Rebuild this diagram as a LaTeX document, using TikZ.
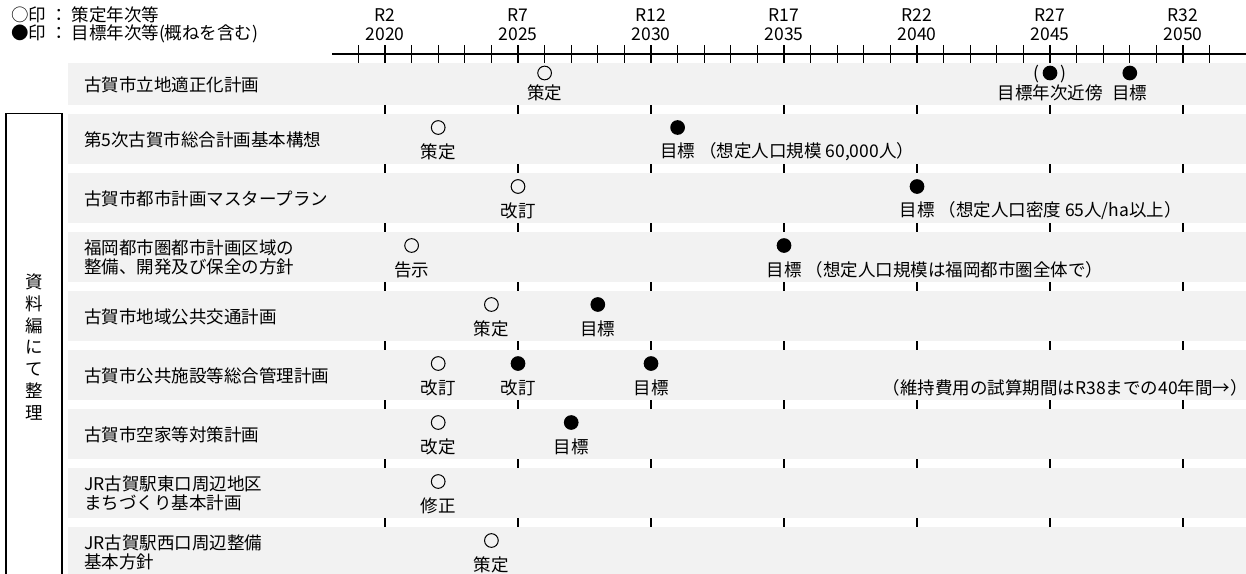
\documentclass[tikz,border=0pt]{standalone}
\usepackage{fontspec}
\setmainfont{Noto Sans CJK JP}
\usepackage{tikz}
\definecolor{BandColor}{RGB}{242,242,242}
\newcommand{\yx}[1]{385+(#1-2020)*26.6}
\tikzstyle{opendot} = [circle, draw=black, line width=1pt, minimum size=13.7pt, inner sep=0pt]
\tikzstyle{goaldot} = [circle, fill=black, minimum size=14.7pt, inner sep=0pt]
\tikzstyle{jptext} = [font=\fontsize{17.5}{19.5}\selectfont, inner sep=0pt]
\tikzstyle{plantext} = [jptext, anchor=west, align=left]
\tikzstyle{gridline} = [line width=1.2pt, black]

\begin{document}
\begin{tikzpicture}[x=1pt, y=-1pt]
\useasboundingbox (0,0) rectangle (1246,573);

% legend
\node[jptext, anchor=west] (openkey) at (11,15) {○印 ： 策定年次等};
\node[jptext, anchor=west] (goalkey) at (11,34) {●印 ： 目標年次等(概ねを含む)};

% year axis
\draw[line width=1.3pt] (332,54) -- (1246,54);
\foreach \yr in {2019,...,2051}
    \draw[line width=1pt] ({\yx{\yr}},45) -- ({\yx{\yr}},63);
\foreach \yr/\r in {2020/2,2025/7,2030/12,2035/17,2040/22,2045/27,2050/32} {
    \draw[line width=2.6pt] ({\yx{\yr}},45) -- ({\yx{\yr}},63);
    \draw[gridline] ({\yx{\yr}},63) -- ({\yx{\yr}},573);
    \node[jptext] (era\r) at ({\yx{\yr}},15) {R\r};
    \node[jptext] (year\yr) at ({\yx{\yr}},34) {\yr};
}

% bands
\fill[BandColor] (68,63) rectangle (1246,105);
\foreach \row in {2,...,9}
    \fill[BandColor] (68,{113.5+59*(\row-2)}) rectangle (1246,{163.5+59*(\row-2)});

% side box
\draw[line width=1.2pt] (6,574) -- (6,113.5) -- (62,113.5) -- (62,574);
\node[jptext, align=center, font=\fontsize{17.5}{21.7}\selectfont] (sorted) at (34,347) {資\\料\\編\\に\\て\\整\\理};

% plan names
\node[plantext] (plan1) at (84,85) {古賀市立地適正化計画};
\foreach \row/\name in {2/第5次古賀市総合計画基本構想, 3/古賀市都市計画マスタープラン,
    4/{福岡都市圏都市計画区域の\\整備、開発及び保全の方針}, 5/古賀市地域公共交通計画,
    6/古賀市公共施設等総合管理計画, 7/古賀市空家等対策計画,
    8/{JR古賀駅東口周辺地区\\まちづくり基本計画}, 9/{JR古賀駅西口周辺整備\\基本方針}}
    \node[plantext] (plan\row) at (84,{139.5+59*(\row-2)}) {\name};

% row 1 marks
\node[opendot] (m1-2026) at ({\yx{2026}},73) {};
\node[jptext] (l1-2026) at ({\yx{2026}},93) {策定};
\node[goaldot] (m1-2045) at ({\yx{2045}},73) {};
\node[jptext, anchor=base east] (lp1) at ({\yx{2045}-10},79) {(};
\node[jptext, anchor=base west] (rp1) at ({\yx{2045}+10},79) {)};
\node[jptext] (l1-2045) at ({\yx{2045}},93) {目標年次近傍};
\node[goaldot] (m1-2048) at ({\yx{2048}},73) {};
\node[jptext] (l1-2048) at ({\yx{2048}},93) {目標};

% rows 2-9 marks
\foreach \row/\yr/\kind/\txt in {2/2022/opendot/策定, 3/2025/opendot/改訂, 4/2021/opendot/告示,
    5/2024/opendot/策定, 5/2028/goaldot/目標, 6/2022/opendot/改訂, 6/2025/goaldot/改訂,
    6/2030/goaldot/目標, 7/2022/opendot/改定, 7/2027/goaldot/目標, 8/2022/opendot/修正,
    9/2024/opendot/策定} {
    \node[\kind] (m\row-\yr) at ({\yx{\yr}},{127.5+59*(\row-2)}) {};
    \node[jptext] (l\row-\yr) at ({\yx{\yr}},{151.5+59*(\row-2)}) {\txt};
}

% goals with notes
\foreach \row/\yr/\txt in {2/2031/{目標 （想定人口規模 60,000人）},
    3/2040/{目標 （想定人口密度 65人/ha以上）}, 4/2035/{目標 （想定人口規模は福岡都市圏全体で）}} {
    \node[goaldot] (m\row-\yr) at ({\yx{\yr}},{127.5+59*(\row-2)}) {};
    \node[jptext, anchor=west] (l\row-\yr) at ({\yx{\yr}-17.5},{151.5+59*(\row-2)}) {\txt};
}
\node[jptext, anchor=east] (note6) at (1248,{151.5+59*4}) {（維持費用の試算期間はR38までの40年間→）};

\end{tikzpicture}
\end{document}
